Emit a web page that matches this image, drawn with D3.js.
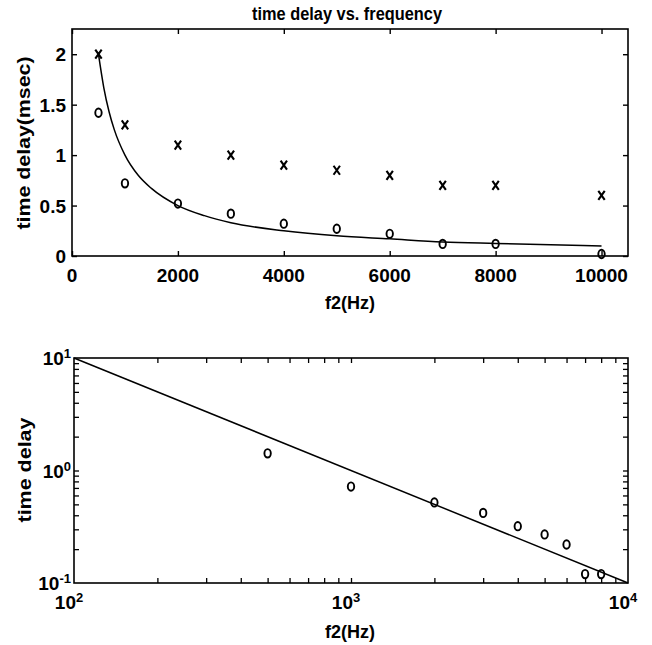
<!DOCTYPE html>
<html>
<head>
<meta charset="utf-8">
<script src="https://cdn.jsdelivr.net/npm/d3@7"></script>
<style>
  body { margin: 0; background: #fff; }
  text { font-family: "Liberation Sans", Arial, sans-serif; font-weight: bold; fill: #000; }
</style>
</head>
<body>
<svg id="chart" width="652" height="645"></svg>
<script>
// measured points
var freq = [500, 1000, 2000, 3000, 4000, 5000, 6000, 7000, 8000, 10000];
var delayX = [2.0, 1.3, 1.1, 1.0, 0.9, 0.85, 0.8, 0.7, 0.7, 0.6];
var delayO = [1.42, 0.72, 0.52, 0.42, 0.32, 0.27, 0.22, 0.12, 0.12, 0.02];

// fitted curve
var curveF = [500, 600, 700, 800, 1000, 1250, 1500, 2000, 2500, 3000, 4000, 5000, 6000, 7000, 8000, 10000];
var curveT = [2.0, 1.67, 1.43, 1.25, 1.0, 0.8, 0.67, 0.5, 0.4, 0.33, 0.25, 0.2, 0.17, 0.14, 0.125, 0.1];

// straight line in the log panel
var lineF = [100, 10000];
var lineT = [10, 0.1];

var xTicksTop = [0, 2000, 4000, 6000, 8000, 10000];
var yTicksTop = [0, 0.5, 1, 1.5, 2];

var svg = d3.select("#chart");

function frame(g, w, h) {
  g.append("rect").attr("x", 0).attr("y", 0).attr("width", w).attr("height", h)
    .attr("fill", "none").attr("stroke", "#000").attr("stroke-width", 1.6);
}

function drawO(g, cx, cy) {
  g.append("ellipse").attr("cx", cx).attr("cy", cy).attr("rx", 3.2).attr("ry", 4.2)
    .attr("fill", "none").attr("stroke", "#000").attr("stroke-width", 1.9);
}
function drawX(g, cx, cy) {
  g.append("path")
    .attr("d", "M" + (cx - 3.2) + "," + (cy - 4.5) + "L" + (cx + 3.2) + "," + (cy + 4.5) +
               "M" + (cx + 3.2) + "," + (cy - 4.5) + "L" + (cx - 3.2) + "," + (cy + 4.5))
    .attr("stroke", "#000").attr("stroke-width", 2.1).attr("fill", "none");
}

// ---------------- top panel ----------------
var m1 = {left: 72, top: 29}, w1 = 556, h1 = 227;
var g1 = svg.append("g").attr("transform", "translate(" + m1.left + "," + m1.top + ")");

var x1 = d3.scaleLinear().domain([0, 10500]).range([0, w1]);
var y1 = d3.scaleLinear().domain([0, 2.25]).range([h1, 0]);

frame(g1, w1, h1);

// inward ticks on all four sides
g1.append("g").attr("transform", "translate(0," + h1 + ")")
  .call(d3.axisBottom(x1).tickValues(xTicksTop).tickSize(-5).tickFormat(""))
  .call(s => s.select(".domain").remove());
g1.append("g")
  .call(d3.axisTop(x1).tickValues(xTicksTop).tickSize(-5).tickFormat(""))
  .call(s => s.select(".domain").remove());
g1.append("g")
  .call(d3.axisLeft(y1).tickValues(yTicksTop).tickSize(-5).tickFormat(""))
  .call(s => s.select(".domain").remove());
g1.append("g").attr("transform", "translate(" + w1 + ",0)")
  .call(d3.axisRight(y1).tickValues(yTicksTop).tickSize(-5).tickFormat(""))
  .call(s => s.select(".domain").remove());
g1.selectAll(".tick line").attr("stroke", "#000").attr("stroke-width", 1.4);

// tick labels
g1.selectAll(".xl").data(xTicksTop).enter().append("text")
  .attr("x", d => x1(d)).attr("y", h1 + 26)
  .attr("text-anchor", "middle").style("font-size", "19px")
  .text(d => d);
g1.selectAll(".yl").data(yTicksTop).enter().append("text")
  .attr("x", -6).attr("y", d => y1(d) + 7)
  .attr("text-anchor", "end").style("font-size", "19px")
  .text(d => d);

// fitted curve
g1.append("path")
  .datum(curveF.map((f, i) => [f, curveT[i]]))
  .attr("fill", "none").attr("stroke", "#000").attr("stroke-width", 1.5)
  .attr("d", d3.line().x(d => x1(d[0])).y(d => y1(d[1])).curve(d3.curveMonotoneX));

freq.forEach((f, i) => drawX(g1, x1(f), y1(delayX[i])));
freq.forEach((f, i) => drawO(g1, x1(f), y1(delayO[i])));

svg.append("text").attr("x", 347).attr("y", 20).attr("text-anchor", "middle")
  .style("font-size", "18px").attr("textLength", 190).attr("lengthAdjust", "spacingAndGlyphs")
  .text("time delay vs. frequency");
svg.append("text").attr("x", 350).attr("y", 309).attr("text-anchor", "middle")
  .style("font-size", "18px").text("f2(Hz)");
svg.append("text").attr("transform", "translate(30,143) rotate(-90)")
  .attr("text-anchor", "middle").style("font-size", "19px")
  .attr("textLength", 173).attr("lengthAdjust", "spacingAndGlyphs")
  .text("time delay(msec)");

// ---------------- bottom panel ----------------
var m2 = {left: 74, top: 358}, w2 = 554, h2 = 225;
var g2 = svg.append("g").attr("transform", "translate(" + m2.left + "," + m2.top + ")");

var x2 = d3.scaleLog().domain([100, 10000]).range([0, w2]);
var y2 = d3.scaleLog().domain([0.1, 10]).range([h2, 0]);

frame(g2, w2, h2);

var xMinor = x2.ticks().filter(d => d > 100 && d < 10000);
var yMinor = y2.ticks().filter(d => d > 0.1 && d < 10);

g2.append("g").attr("transform", "translate(0," + h2 + ")")
  .call(d3.axisBottom(x2).tickValues(xMinor).tickSize(-5).tickFormat(""))
  .call(s => s.select(".domain").remove());
g2.append("g")
  .call(d3.axisTop(x2).tickValues(xMinor).tickSize(-5).tickFormat(""))
  .call(s => s.select(".domain").remove());
g2.append("g")
  .call(d3.axisLeft(y2).tickValues(yMinor).tickSize(-5).tickFormat(""))
  .call(s => s.select(".domain").remove());
g2.append("g").attr("transform", "translate(" + w2 + ",0)")
  .call(d3.axisRight(y2).tickValues(yMinor).tickSize(-5).tickFormat(""))
  .call(s => s.select(".domain").remove());
g2.selectAll(".tick line").attr("stroke", "#000").attr("stroke-width", 1.3);

// power-of-ten labels
function pow10(sel, exp) {
  sel.append("tspan").style("font-size", "19px").text("10");
  sel.append("tspan").style("font-size", "13px").attr("dy", -7).text(exp);
}
[100, 1000, 10000].forEach(v => {
  var t = g2.append("text").attr("x", x2(v) - 5).attr("y", h2 + 26).attr("text-anchor", "middle");
  pow10(t, Math.round(Math.log10(v)));
});
[0.1, 1, 10].forEach(v => {
  var t = g2.append("text").attr("x", -3).attr("y", y2(v) + 7).attr("text-anchor", "end");
  pow10(t, Math.round(Math.log10(v)));
});

g2.append("path")
  .datum(lineF.map((f, i) => [f, lineT[i]]))
  .attr("fill", "none").attr("stroke", "#000").attr("stroke-width", 1.5)
  .attr("d", d3.line().x(d => x2(d[0])).y(d => y2(d[1])));

freq.forEach((f, i) => {
  if (delayO[i] >= 0.1) drawO(g2, x2(f), y2(delayO[i]));
});

svg.append("text").attr("x", 350).attr("y", 638).attr("text-anchor", "middle")
  .style("font-size", "18px").text("f2(Hz)");
svg.append("text").attr("transform", "translate(31,470) rotate(-90)")
  .attr("text-anchor", "middle").style("font-size", "19px")
  .attr("textLength", 105).attr("lengthAdjust", "spacingAndGlyphs")
  .text("time delay");
</script>
</body>
</html>
